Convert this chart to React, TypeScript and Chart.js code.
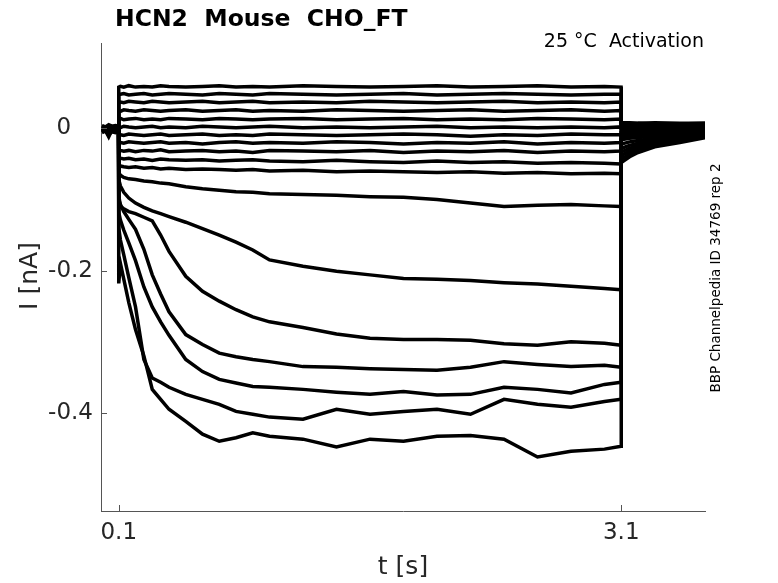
import { useEffect, useRef } from "react";
import Chart from "chart.js/auto";

// sample times [s]: holding, step (0.1 - 3.1 s), tail
const timeS = [
  0, 0.02, 0.04, 0.06, 0.08, 0.099,
  0.1, 0.11, 0.13, 0.16, 0.2, 0.25, 0.3, 0.35, 0.4, 0.5, 0.6, 0.7, 0.8, 0.9, 1.0,
  1.2, 1.4, 1.6, 1.8, 2.0, 2.2, 2.4, 2.6, 2.8, 3.0, 3.099,
  3.1, 3.15, 3.2, 3.3, 3.45, 3.6,
];

// current [nA] per sweep
const sweep01 = [0.004, 0.002, 0.005, 0.003, 0.004, 0.003,
  0.058, 0.059, 0.058, 0.060, 0.058, 0.059, 0.058, 0.060, 0.059, 0.058, 0.059, 0.060, 0.058, 0.059, 0.058,
  0.060, 0.059, 0.058, 0.059, 0.060, 0.058, 0.059, 0.060, 0.058, 0.059, 0.058,
  0.008, 0.008, 0.007, 0.008, 0.007, 0.007];
const sweep02 = [0.003, 0.001, -0.002, 0.002, 0.003, 0.001,
  0.047, 0.048, 0.049, 0.047, 0.048, 0.049, 0.047, 0.048, 0.049, 0.048, 0.047, 0.049, 0.048, 0.047, 0.049,
  0.048, 0.047, 0.048, 0.049, 0.047, 0.048, 0.049, 0.048, 0.047, 0.048, 0.048,
  0.007, 0.007, 0.007, 0.006, 0.006, 0.007];
const sweep03 = [0.002, 0.000, 0.003, 0.001, 0.000, 0.002,
  0.036, 0.037, 0.036, 0.038, 0.037, 0.036, 0.038, 0.037, 0.036, 0.037, 0.038, 0.036, 0.037, 0.038, 0.036,
  0.037, 0.036, 0.038, 0.037, 0.036, 0.037, 0.038, 0.036, 0.037, 0.036, 0.037,
  0.006, 0.006, 0.005, 0.006, 0.005, 0.005];
const sweep04 = [0.001, -0.001, 0.002, 0.000, 0.001, -0.001,
  0.025, 0.024, 0.026, 0.025, 0.024, 0.026, 0.025, 0.024, 0.025, 0.026, 0.024, 0.025, 0.026, 0.024, 0.025,
  0.024, 0.026, 0.025, 0.024, 0.025, 0.026, 0.024, 0.025, 0.026, 0.024, 0.025,
  0.004, 0.004, 0.004, 0.004, 0.003, 0.004];
const sweep05 = [0.000, -0.002, -0.004, -0.001, 0.001, 0.000,
  0.013, 0.014, 0.012, 0.013, 0.014, 0.012, 0.013, 0.012, 0.014, 0.013, 0.012, 0.014, 0.013, 0.012, 0.013,
  0.014, 0.012, 0.013, 0.014, 0.012, 0.013, 0.012, 0.014, 0.013, 0.012, 0.013,
  0.003, 0.003, 0.002, 0.003, 0.002, 0.003];
const sweep06 = [-0.001, 0.001, -0.002, -0.003, 0.000, -0.001,
  0.002, 0.001, 0.003, 0.002, 0.001, 0.002, 0.003, 0.001, 0.002, 0.001, 0.003, 0.002, 0.001, 0.002, 0.003,
  0.001, 0.002, 0.001, 0.002, 0.003, 0.001, 0.002, 0.001, 0.002, 0.001, 0.002,
  0.001, 0.001, 0.001, 0.001, 0.001, 0.002];
const sweep07 = [-0.002, 0.000, -0.006, -0.002, -0.001, -0.002,
  -0.008, -0.009, -0.010, -0.008, -0.009, -0.010, -0.009, -0.008, -0.010, -0.009, -0.008, -0.010, -0.009, -0.010, -0.008,
  -0.009, -0.010, -0.009, -0.008, -0.009, -0.011, -0.009, -0.010, -0.008, -0.009, -0.009,
  -0.001, -0.001, 0.000, 0.000, 0.000, 0.001];
const sweep08 = [-0.003, -0.001, -0.004, -0.002, -0.003, -0.002,
  -0.019, -0.020, -0.021, -0.019, -0.020, -0.021, -0.020, -0.019, -0.021, -0.020, -0.022, -0.020, -0.019, -0.021, -0.020,
  -0.021, -0.019, -0.020, -0.022, -0.020, -0.021, -0.019, -0.022, -0.020, -0.021, -0.020,
  -0.003, -0.003, -0.002, -0.002, -0.001, 0.000];
const sweep09 = [-0.004, -0.002, -0.010, -0.003, -0.004, -0.003,
  -0.030, -0.031, -0.032, -0.031, -0.033, -0.031, -0.032, -0.030, -0.033, -0.032, -0.031, -0.033, -0.032, -0.034, -0.031,
  -0.032, -0.033, -0.031, -0.034, -0.032, -0.033, -0.031, -0.034, -0.032, -0.033, -0.032,
  -0.006, -0.005, -0.004, -0.004, -0.003, -0.002];
const sweep10 = [-0.005, -0.003, -0.006, -0.004, -0.005, -0.004,
  -0.040, -0.042, -0.043, -0.042, -0.044, -0.043, -0.045, -0.043, -0.044, -0.045, -0.044, -0.046, -0.045, -0.044, -0.046,
  -0.047, -0.045, -0.047, -0.048, -0.046, -0.048, -0.047, -0.049, -0.048, -0.049, -0.050,
  -0.009, -0.008, -0.007, -0.006, -0.005, -0.003];
const sweep11 = [-0.006, -0.004, -0.007, -0.005, -0.006, -0.005,
  -0.050, -0.053, -0.054, -0.055, -0.054, -0.056, -0.055, -0.057, -0.056, -0.058, -0.057, -0.058, -0.059, -0.058, -0.060,
  -0.059, -0.061, -0.060, -0.061, -0.062, -0.061, -0.063, -0.062, -0.064, -0.063, -0.064,
  -0.012, -0.011, -0.010, -0.008, -0.007, -0.005];
const sweep12 = [-0.004, -0.002, -0.005, -0.003, -0.004, -0.003,
  -0.062, -0.066, -0.069, -0.071, -0.072, -0.074, -0.075, -0.077, -0.078, -0.082, -0.085, -0.087, -0.089, -0.090, -0.092,
  -0.093, -0.094, -0.096, -0.097, -0.100, -0.105, -0.110, -0.108, -0.107, -0.109, -0.110,
  -0.016, -0.014, -0.013, -0.011, -0.009, -0.006];
const sweep13 = [-0.002, 0.000, -0.003, -0.001, -0.002, -0.001,
  -0.072, -0.081, -0.090, -0.098, -0.105, -0.111, -0.116, -0.120, -0.124, -0.132, -0.141, -0.150, -0.160, -0.171, -0.185,
  -0.194, -0.201, -0.206, -0.211, -0.212, -0.214, -0.217, -0.219, -0.222, -0.225, -0.227,
  -0.022, -0.019, -0.017, -0.014, -0.011, -0.008];
const sweep14 = [-0.003, -0.001, -0.004, -0.002, -0.003, -0.002,
  -0.094, -0.110, -0.113, -0.117, -0.120, -0.125, -0.130, -0.150, -0.173, -0.208, -0.229, -0.243, -0.255, -0.265, -0.272,
  -0.280, -0.289, -0.295, -0.297, -0.297, -0.298, -0.303, -0.305, -0.300, -0.302, -0.305,
  -0.028, -0.024, -0.021, -0.017, -0.013, -0.009];
const sweep15 = [-0.002, -0.004, -0.001, -0.003, -0.002, -0.004,
  -0.100, -0.107, -0.117, -0.128, -0.142, -0.170, -0.206, -0.233, -0.258, -0.290, -0.304, -0.316, -0.321, -0.325, -0.328,
  -0.335, -0.336, -0.338, -0.339, -0.340, -0.336, -0.328, -0.332, -0.335, -0.333, -0.336,
  -0.033, -0.028, -0.024, -0.019, -0.015, -0.010];
const sweep16 = [-0.001, -0.003, -0.012, -0.002, -0.003, -0.001,
  -0.118, -0.129, -0.143, -0.161, -0.186, -0.223, -0.251, -0.272, -0.291, -0.325, -0.342, -0.353, -0.358, -0.363, -0.364,
  -0.367, -0.371, -0.374, -0.370, -0.375, -0.374, -0.364, -0.367, -0.372, -0.360, -0.357,
  -0.038, -0.032, -0.027, -0.021, -0.016, -0.011];
const sweep17 = [-0.003, -0.002, -0.005, -0.001, -0.004, -0.002,
  -0.140, -0.157, -0.178, -0.210, -0.251, -0.325, -0.351, -0.357, -0.364, -0.374, -0.381, -0.388, -0.398, -0.402, -0.406,
  -0.409, -0.395, -0.402, -0.398, -0.395, -0.402, -0.381, -0.388, -0.392, -0.384, -0.381,
  -0.043, -0.036, -0.030, -0.023, -0.018, -0.012];
const sweep18 = [-0.002, -0.004, -0.008, -0.003, -0.002, -0.003,
  -0.218, -0.190, -0.212, -0.245, -0.283, -0.320, -0.367, -0.381, -0.395, -0.412, -0.430, -0.440, -0.435, -0.428, -0.433,
  -0.437, -0.448, -0.437, -0.440, -0.433, -0.432, -0.437, -0.462, -0.454, -0.451, -0.447,
  -0.048, -0.040, -0.034, -0.026, -0.020, -0.013];

const sweeps = [
  sweep01, sweep02, sweep03, sweep04, sweep05, sweep06, sweep07, sweep08, sweep09,
  sweep10, sweep11, sweep12, sweep13, sweep14, sweep15, sweep16, sweep17, sweep18,
];

const xTicks = [0.1, 3.1];
const yTicks = [-0.4, -0.2, 0];

const FONT = "'DejaVu Sans', sans-serif";
const INK = "#262626";
const AXIS = "#555555";

// MATLAB-ish extras: inward ticks and the free text around the axes
const matlabPlugin = {
  id: "matlabExtras",
  afterDraw(chart: Chart) {
    const { ctx, chartArea, scales } = chart;
    ctx.save();
    ctx.strokeStyle = AXIS;
    ctx.lineWidth = 1;
    yTicks.forEach((v) => {
      const y = Math.round(scales.y.getPixelForValue(v)) + 0.5;
      ctx.beginPath();
      ctx.moveTo(chartArea.left, y);
      ctx.lineTo(chartArea.left + 6, y);
      ctx.stroke();
    });
    xTicks.forEach((v) => {
      const x = Math.round(scales.x.getPixelForValue(v)) + 0.5;
      ctx.beginPath();
      ctx.moveTo(x, chartArea.bottom);
      ctx.lineTo(x, chartArea.bottom - 6);
      ctx.stroke();
    });

    ctx.fillStyle = "#000";
    ctx.textBaseline = "alphabetic";
    ctx.textAlign = "left";
    ctx.font = `bold 23.5px ${FONT}`;
    ctx.fillText("HCN2  Mouse  CHO_FT", 115, 26);

    ctx.textAlign = "right";
    ctx.font = `19px ${FONT}`;
    ctx.fillText("25 °C  Activation", 704, 47);

    ctx.fillStyle = INK;
    ctx.textAlign = "center";
    ctx.textBaseline = "middle";
    ctx.font = `25px ${FONT}`;
    ctx.fillText("t [s]", 403, 567);

    ctx.save();
    ctx.translate(30, 276);
    ctx.rotate(-Math.PI / 2);
    ctx.fillText("I [nA]", 0, 0);
    ctx.restore();

    ctx.save();
    ctx.fillStyle = "#000";
    ctx.translate(716, 278);
    ctx.rotate(-Math.PI / 2);
    ctx.font = `13.5px ${FONT}`;
    ctx.fillText("BBP Channelpedia ID 34769 rep 2", 0, 0);
    ctx.restore();

    ctx.restore();
  },
};

// the zero label sits where the "0" of "-0.2" sits (decimal-aligned)
const yLabel = (v: number) => (v === 0 ? "0\u2008\u2007" : String(v));

const App = () => {
  const chartRef = useRef<HTMLCanvasElement | null>(null);
  const chartInstance = useRef<Chart | null>(null);

  useEffect(() => {
    document.body.style.margin = "0";
    if (chartInstance.current) {
      chartInstance.current.destroy();
    }
    if (chartRef.current) {
      chartInstance.current = new Chart(chartRef.current, {
        type: "line",
        data: {
          datasets: sweeps.map((vals) => ({
            data: timeS.map((t, i) => ({ x: t, y: vals[i] })),
            borderColor: "#000",
            borderWidth: 3.5,
            pointRadius: 0,
            fill: false,
            tension: 0,
          })),
        },
        options: {
          animation: false,
          responsive: false,
          events: [],
          layout: { padding: { top: 43, right: 73, bottom: 0, left: 0 } },
          plugins: {
            legend: { display: false },
            tooltip: { enabled: false },
          },
          scales: {
            x: {
              type: "linear",
              min: -0.006,
              max: 3.6,
              afterFit: (s: any) => {
                s.height = 72;
              },
              afterBuildTicks: (s: any) => {
                s.ticks = xTicks.map((value) => ({ value }));
              },
              ticks: {
                color: INK,
                font: { family: FONT, size: 23 },
                padding: 8,
                maxRotation: 0,
                autoSkip: false,
                callback: (v: any) => String(v),
              },
              grid: { display: false, drawTicks: false },
              border: { display: true, color: AXIS, width: 1 },
            },
            y: {
              type: "linear",
              min: -0.538,
              max: 0.12,
              afterFit: (s: any) => {
                s.width = 101;
              },
              afterBuildTicks: (s: any) => {
                s.ticks = yTicks.map((value) => ({ value }));
              },
              ticks: {
                color: INK,
                font: { family: FONT, size: 23 },
                padding: 8,
                autoSkip: false,
                callback: (v: any) => yLabel(Number(v)),
              },
              grid: { display: false, drawTicks: false },
              border: { display: true, color: AXIS, width: 1 },
            },
          },
        },
        plugins: [matlabPlugin],
      });
    }
    return () => {
      chartInstance.current?.destroy();
      chartInstance.current = null;
    };
  }, []);

  return (
    <div style={{ width: 778, height: 583, background: "#fff" }}>
      <canvas ref={chartRef} width={778} height={583} />
    </div>
  );
};

export default App;
